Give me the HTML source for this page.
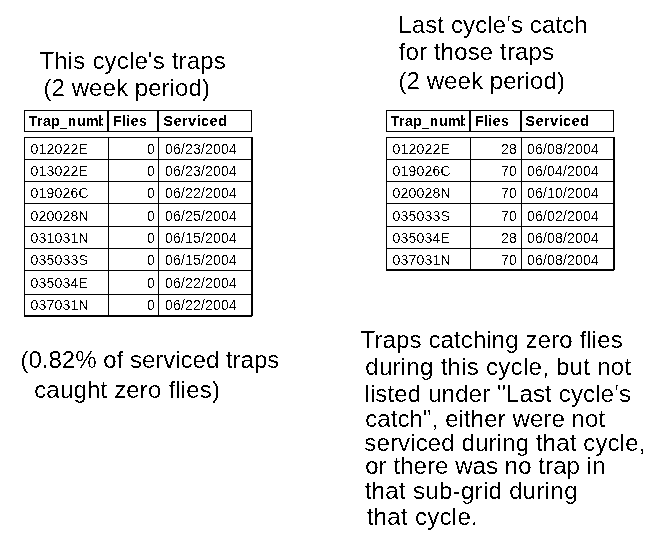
<!DOCTYPE html>
<html lang="en">
<head>
<meta charset="utf-8">
<title>Trap cycle report</title>
<style>
html,body{margin:0;padding:0;background:#fff;}
body{position:relative;width:663px;height:545px;overflow:hidden;font-family:"Liberation Sans",sans-serif;color:#000;}
.l{position:absolute;background:#000;}
.t,.d,.h{position:absolute;white-space:pre;filter:url(#crisp);}
.t{filter:url(#crisp2);}
.d{filter:url(#crisp3);}
.t{font-size:24px;line-height:29px;}
.d{font-size:14px;line-height:17px;letter-spacing:0.216px;}
.h{font-size:14px;line-height:17px;font-weight:bold;letter-spacing:0.7px;}
</style>
</head>
<body>
<svg width="0" height="0" style="position:absolute" aria-hidden="true"><filter id="crisp" x="0" y="0" width="100%" height="100%" color-interpolation-filters="sRGB"><feComponentTransfer><feFuncA type="discrete" tableValues="0 0 0 0 0 0 0 0 0 1 1 1 1 1 1 1 1 1 1 1"/></feComponentTransfer></filter><filter id="crisp2" x="0" y="0" width="100%" height="100%" color-interpolation-filters="sRGB"><feComponentTransfer><feFuncA type="discrete" tableValues="0 0 0 0 0 0 0 0 0 0 0 1 1 1 1 1 1 1 1 1"/></feComponentTransfer></filter><filter id="crisp3" x="0" y="0" width="100%" height="100%" color-interpolation-filters="sRGB"><feComponentTransfer><feFuncA type="discrete" tableValues="0 0 0 0 0 0 0 0 0 0 0 1 1 1 1 1 1 1 1 1"/></feComponentTransfer></filter></svg>
<section class="panel" aria-label="This cycle">
<header>
<div class="t" style="left:39.5px;top:46.18px;letter-spacing:0.176px;">This cycle's traps</div>
<div class="t" style="left:43.5px;top:73.18px;letter-spacing:0.071px;">(2 week period)</div>
</header>
<div class="grid" role="table">
<div class="l" style="left:24px;top:110px;width:228px;height:1px"></div>
<div class="l" style="left:24px;top:131px;width:228px;height:1px"></div>
<div class="l" style="left:24px;top:110px;width:1px;height:22px"></div>
<div class="l" style="left:251px;top:110px;width:1px;height:22px"></div>
<div class="l" style="left:107px;top:110px;width:2px;height:22px"></div>
<div class="l" style="left:157px;top:110px;width:2px;height:22px"></div>
<div class="h" style="left:28.6px;top:112.9px;width:74.4px;letter-spacing:0.55px;overflow:hidden">Trap<span style="margin-left:-0.9px;position:relative;top:1px">_</span>num<span style="margin-left:-1.1px">b</span></div>
<div class="h" style="left:113.2px;top:113.05px;letter-spacing:0.45px;">Flies</div>
<div class="h" style="left:163.6px;top:113.05px;">Serviced</div>
<div class="l" style="left:24px;top:137px;width:228px;height:1px"></div>
<div class="l" style="left:24px;top:159px;width:228px;height:1px"></div>
<div class="l" style="left:24px;top:181px;width:228px;height:1px"></div>
<div class="l" style="left:24px;top:203px;width:228px;height:1px"></div>
<div class="l" style="left:24px;top:226px;width:228px;height:1px"></div>
<div class="l" style="left:24px;top:248px;width:228px;height:1px"></div>
<div class="l" style="left:24px;top:270px;width:228px;height:1px"></div>
<div class="l" style="left:24px;top:294px;width:228px;height:1px"></div>
<div class="l" style="left:24px;top:315px;width:228px;height:2px"></div>
<div class="l" style="left:24px;top:137px;width:1px;height:179px"></div>
<div class="l" style="left:108px;top:137px;width:1px;height:179px"></div>
<div class="l" style="left:158px;top:137px;width:1px;height:179px"></div>
<div class="l" style="left:251px;top:137px;width:2px;height:179px"></div>
<div class="d" style="left:30.4px;top:140.65px;">012022E</div>
<div class="d r" style="left:0px;top:140.65px;left:auto;right:508.1px;">0</div>
<div class="d" style="left:164.9px;top:140.65px;">06/23/2004</div>
<div class="d" style="left:30.4px;top:162.65px;">013022E</div>
<div class="d r" style="left:0px;top:162.65px;left:auto;right:508.1px;">0</div>
<div class="d" style="left:164.9px;top:162.65px;">06/23/2004</div>
<div class="d" style="left:30.4px;top:184.65px;">019026C</div>
<div class="d r" style="left:0px;top:184.65px;left:auto;right:508.1px;">0</div>
<div class="d" style="left:164.9px;top:184.65px;">06/22/2004</div>
<div class="d" style="left:30.4px;top:207.65px;">020028N</div>
<div class="d r" style="left:0px;top:207.65px;left:auto;right:508.1px;">0</div>
<div class="d" style="left:164.9px;top:207.65px;">06/25/2004</div>
<div class="d" style="left:30.4px;top:229.65px;">031031N</div>
<div class="d r" style="left:0px;top:229.65px;left:auto;right:508.1px;">0</div>
<div class="d" style="left:164.9px;top:229.65px;">06/15/2004</div>
<div class="d" style="left:30.4px;top:251.65px;">035033S</div>
<div class="d r" style="left:0px;top:251.65px;left:auto;right:508.1px;">0</div>
<div class="d" style="left:164.9px;top:251.65px;">06/15/2004</div>
<div class="d" style="left:30.4px;top:274.65px;">035034E</div>
<div class="d r" style="left:0px;top:274.65px;left:auto;right:508.1px;">0</div>
<div class="d" style="left:164.9px;top:274.65px;">06/22/2004</div>
<div class="d" style="left:30.4px;top:296.65px;">037031N</div>
<div class="d r" style="left:0px;top:296.65px;left:auto;right:508.1px;">0</div>
<div class="d" style="left:164.9px;top:296.65px;">06/22/2004</div>
</div>
<footer>
<div class="t" style="left:20.5px;top:345.18px;letter-spacing:0.000px;">(0.82% of serviced traps</div>
<div class="t" style="left:34.2px;top:375.18px;letter-spacing:0.176px;">caught zero flies)</div>
</footer>
</section>
<section class="panel" aria-label="Last cycle">
<header>
<div class="t" style="left:398.3px;top:10.18px;letter-spacing:0.118px;">Last cycle's catch</div>
<div class="t" style="left:398.6px;top:37.18px;letter-spacing:0.143px;">for those traps</div>
<div class="t" style="left:398.5px;top:66.18px;letter-spacing:0.071px;">(2 week period)</div>
</header>
<div class="grid" role="table">
<div class="l" style="left:386px;top:110px;width:228px;height:1px"></div>
<div class="l" style="left:386px;top:131px;width:228px;height:1px"></div>
<div class="l" style="left:386px;top:110px;width:1px;height:22px"></div>
<div class="l" style="left:613px;top:110px;width:1px;height:22px"></div>
<div class="l" style="left:469px;top:110px;width:2px;height:22px"></div>
<div class="l" style="left:520px;top:110px;width:2px;height:22px"></div>
<div class="h" style="left:390.6px;top:112.9px;width:74.4px;letter-spacing:0.55px;overflow:hidden">Trap<span style="margin-left:-0.9px;position:relative;top:1px">_</span>num<span style="margin-left:-1.1px">b</span></div>
<div class="h" style="left:475.2px;top:113.05px;letter-spacing:0.45px;">Flies</div>
<div class="h" style="left:525.6px;top:113.05px;">Serviced</div>
<div class="l" style="left:386px;top:137px;width:228px;height:1px"></div>
<div class="l" style="left:386px;top:159px;width:228px;height:1px"></div>
<div class="l" style="left:386px;top:181px;width:228px;height:1px"></div>
<div class="l" style="left:386px;top:203px;width:228px;height:1px"></div>
<div class="l" style="left:386px;top:226px;width:228px;height:1px"></div>
<div class="l" style="left:386px;top:248px;width:228px;height:1px"></div>
<div class="l" style="left:386px;top:269px;width:228px;height:2px"></div>
<div class="l" style="left:386px;top:137px;width:1px;height:133px"></div>
<div class="l" style="left:470px;top:137px;width:1px;height:133px"></div>
<div class="l" style="left:521px;top:137px;width:1px;height:133px"></div>
<div class="l" style="left:613px;top:137px;width:2px;height:133px"></div>
<div class="d" style="left:392.4px;top:140.65px;">012022E</div>
<div class="d r" style="left:0px;top:140.65px;left:auto;right:146.10000000000002px;">28</div>
<div class="d" style="left:526.9px;top:140.65px;">06/08/2004</div>
<div class="d" style="left:392.4px;top:162.65px;">019026C</div>
<div class="d r" style="left:0px;top:162.65px;left:auto;right:146.10000000000002px;">70</div>
<div class="d" style="left:526.9px;top:162.65px;">06/04/2004</div>
<div class="d" style="left:392.4px;top:184.65px;">020028N</div>
<div class="d r" style="left:0px;top:184.65px;left:auto;right:146.10000000000002px;">70</div>
<div class="d" style="left:526.9px;top:184.65px;">06/10/2004</div>
<div class="d" style="left:392.4px;top:207.65px;">035033S</div>
<div class="d r" style="left:0px;top:207.65px;left:auto;right:146.10000000000002px;">70</div>
<div class="d" style="left:526.9px;top:207.65px;">06/02/2004</div>
<div class="d" style="left:392.4px;top:229.65px;">035034E</div>
<div class="d r" style="left:0px;top:229.65px;left:auto;right:146.10000000000002px;">28</div>
<div class="d" style="left:526.9px;top:229.65px;">06/08/2004</div>
<div class="d" style="left:392.4px;top:251.65px;">037031N</div>
<div class="d r" style="left:0px;top:251.65px;left:auto;right:146.10000000000002px;">70</div>
<div class="d" style="left:526.9px;top:251.65px;">06/08/2004</div>
</div>
<footer>
<div class="t" style="left:360.5px;top:325.18px;letter-spacing:0.125px;">Traps catching zero flies</div>
<div class="t" style="left:365.3px;top:352.18px;letter-spacing:0.280px;">during this cycle, but not</div>
<div class="t" style="left:364.4px;top:379.18px;letter-spacing:0.160px;">listed under "Last cycle's</div>
<div class="t" style="left:365.2px;top:404.18px;letter-spacing:0.091px;">catch", either were not</div>
<div class="t" style="left:364.3px;top:428.18px;letter-spacing:0.138px;">serviced during that cycle,</div>
<div class="t" style="left:365.2px;top:451.18px;letter-spacing:0.068px;">or there was no trap in</div>
<div class="t" style="left:364.7px;top:476.18px;letter-spacing:0.316px;">that sub-grid during</div>
<div class="t" style="left:366.7px;top:502.18px;letter-spacing:0.300px;">that cycle.</div>
</footer>
</section>
</body>
</html>
